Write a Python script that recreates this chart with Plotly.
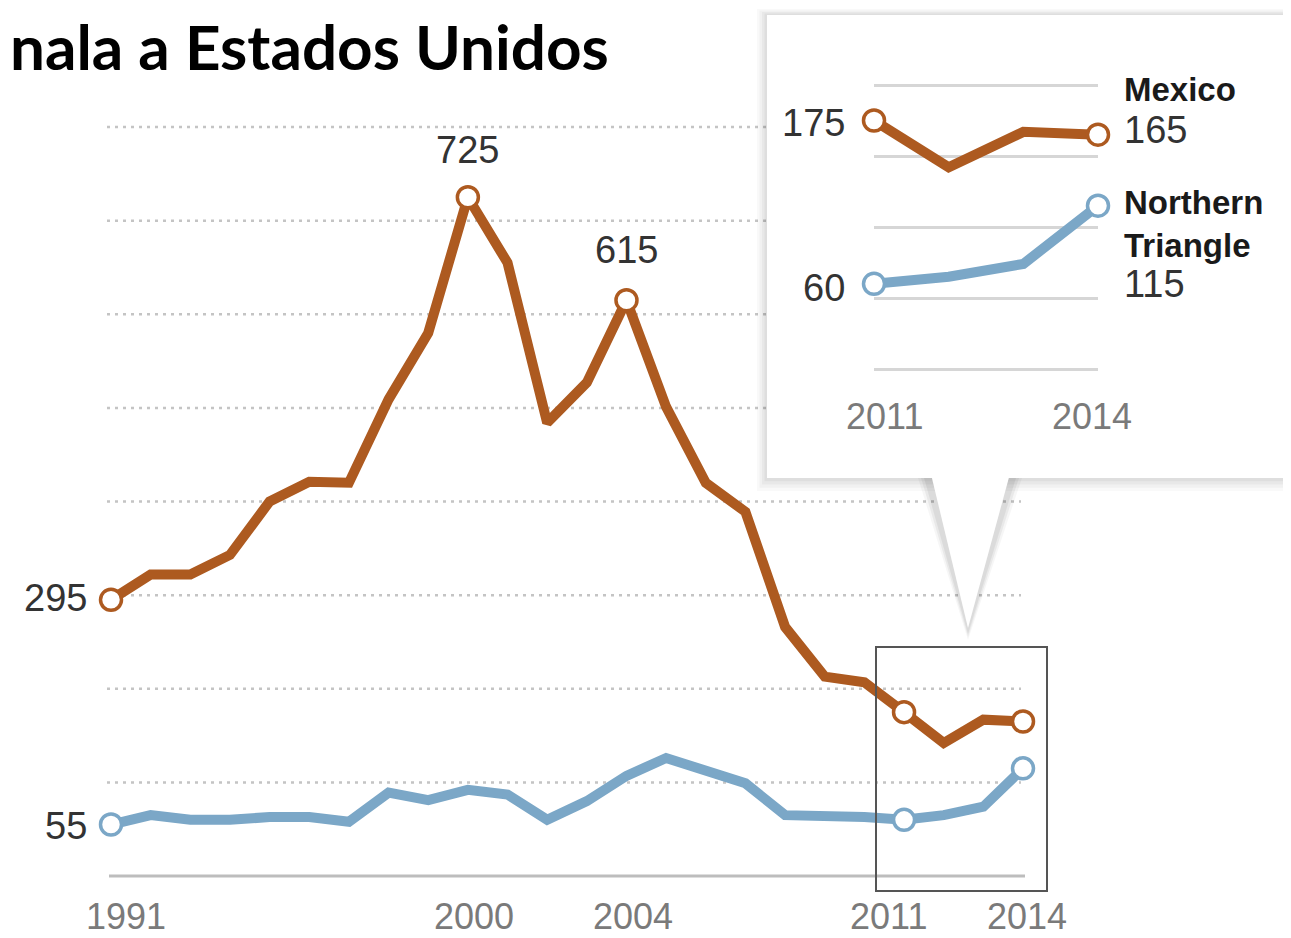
import plotly.graph_objects as go

# ---------------- data ----------------
years = list(range(1991, 2015))
mexico = [295, 322, 322, 343, 400, 421, 420, 509, 580, 725, 655, 484,
          527, 615, 501, 420, 389, 266, 213, 207, 175, 142, 167, 165]
northern_triangle = [55, 65, 60, 60, 63, 63, 58, 89, 81, 92, 87, 60,
                     80, 107, 126, 113, 99, 65, 65, 63, 60, 65, 74, 115]
main_tick_years = [1991, 2000, 2004, 2011, 2014]
inset_tick_years = [2011, 2014]
main_grid_values = [100, 200, 300, 400, 500, 600, 700, 800]
mexico_marked_years = [1991, 2000, 2004, 2011, 2014]
nt_marked_years = [1991, 2011, 2014]
inset_years = years[-4:]
inset_mexico = mexico[-4:]
inset_nt = northern_triangle[-4:]
title_text = "nala a Estados Unidos"
mexico_name = "Mexico"
nt_name = "Northern<br>Triangle"

# ---------------- layout geometry (styles / positions) ----------------
W, H = 1291, 938
OFF = 8  # page body margin: screen px = figure px + OFF
ORANGE = "#AD5A20"
BLUE = "#7BA7C7"
DARK = "#333333"
GRAY = "#7a7a7a"
NUMFONT = "Liberation Sans"
main_tick_shift = [15, 6, 7, -16, 4]
inset_tick_shift = [10, -6]

# main axes pixel mapping (screen coords)
x_px0, x_px1 = 111, 1023
ppy = (x_px1 - x_px0) / (2014 - 1991)
x_range = [1991 - (x_px0 - OFF) / ppy, 1991 + (W - (x_px0 - OFF)) / ppy]
y_zero_px, ppu = 876, (876 - 127) / 800
y_bottom_px = 898
y_range = [-(y_bottom_px - y_zero_px) / ppu, (y_zero_px - OFF) / ppu]


def dx(px):
    return x_range[0] + (px - OFF) / ppy


def dy(py):
    return (y_zero_px - py) / ppu


def pxp(px):
    return (px - OFF) / W


def pyp(py):
    return 1 - (py - OFF) / H


# inset axes pixel mapping (screen coords)
ix0, ix1 = 874, 1098
iy_zero, ippu = 369, 1.42
iy_bottom, iy_top = 377, 40
iy_range = [-(iy_bottom - iy_zero) / ippu, (iy_zero - iy_top) / ippu]

fig = go.Figure()


def marker_sizes(xs, marked, size):
    return [size if x in marked else 0 for x in xs]


MS, MW = 21, 3.5


def add_series(xs, ys, marked, color, xa, ya):
    fig.add_trace(go.Scatter(
        x=xs, y=ys, mode="lines+markers",
        line=dict(color=color, width=10), cliponaxis=False,
        marker=dict(size=marker_sizes(xs, marked, MS), color="white", opacity=1,
                    line=dict(color=color, width=MW)),
        xaxis=xa, yaxis=ya, hoverinfo="skip", showlegend=False))


add_series(years, northern_triangle, nt_marked_years, BLUE, "x", "y")
add_series(years, mexico, mexico_marked_years, ORANGE, "x", "y")
inset_marked = [inset_years[0], inset_years[-1]]
add_series(inset_years, inset_nt, inset_marked, BLUE, "x2", "y2")
add_series(inset_years, inset_mexico, inset_marked, ORANGE, "x2", "y2")

shapes = []
# dotted main gridlines
for v in main_grid_values:
    shapes.append(dict(type="line", xref="x", yref="y", layer="below",
                       x0=dx(107), x1=dx(1021), y0=v, y1=v,
                       line=dict(color="#c4c4c4", width=2.5, dash="3px,5px")))
# baseline
shapes.append(dict(type="line", xref="x", yref="y", layer="below",
                   x0=dx(109), x1=dx(1025), y0=0, y1=0,
                   line=dict(color="#bdbdbd", width=3)))

# inset box shadow
for i, a in enumerate([0.025, 0.03, 0.035, 0.045]):
    d = 10 - 2.5 * i
    shapes.append(dict(type="rect", xref="x", yref="y", layer="below",
                       x0=dx(767 - d), x1=dx(1320), y0=dy(15 - d * 0.6), y1=dy(478 + d * 1.3),
                       fillcolor="rgba(0,0,0,%s)" % a, line=dict(width=0)))
# pointer shadow
for i, a in enumerate([0.035, 0.05, 0.06]):
    d = 8 - 3 * i
    shapes.append(dict(type="path", xref="x", yref="y", layer="below",
                       path="M %f,%f L %f,%f L %f,%f Z" % (
                           dx(926 - d), dy(478), dx(968), dy(632 + d), dx(1014 + d), dy(478)),
                       fillcolor="rgba(0,0,0,%s)" % a, line=dict(width=0)))
# inset white box
shapes.append(dict(type="rect", xref="x", yref="y", layer="below",
                   x0=dx(767), x1=dx(1320), y0=dy(15), y1=dy(478),
                   fillcolor="white", line=dict(width=0)))
# pointer white
shapes.append(dict(type="path", xref="x", yref="y", layer="below",
                   path="M %f,%f L %f,%f L %f,%f Z" % (
                       dx(930), dy(470), dx(968), dy(628), dx(1011), dy(470)),
                   fillcolor="white", line=dict(width=0)))
# zoom rectangle
shapes.append(dict(type="rect", xref="x", yref="y", layer="above",
                   x0=dx(876), x1=dx(1047), y0=dy(647), y1=dy(891),
                   line=dict(color="#555555", width=2), fillcolor="rgba(0,0,0,0)"))

annotations = []
# title
annotations.append(dict(xref="paper", yref="paper", x=pxp(OFF), y=pyp(46),
                        xanchor="left", yanchor="middle", showarrow=False,
                        text="<b>%s</b>" % title_text,
                        font=dict(family="Lato", size=62, color="black")))


def num_label(px, py, text, anchor="center", color=DARK, size=38):
    annotations.append(dict(xref="paper", yref="paper", x=pxp(px), y=pyp(py),
                            xanchor=anchor, yanchor="middle", showarrow=False,
                            text=text, font=dict(family=NUMFONT, size=size, color=color)))


# main value labels
num_label(89, 598, str(mexico[0]), "right")
num_label(89, 826, str(northern_triangle[0]), "right")
for yr, sh in [(2000, 47), (2004, 50)]:
    i = years.index(yr)
    annotations.append(dict(xref="x", yref="y", x=years[i], y=mexico[i],
                            yshift=sh, showarrow=False, text=str(mexico[i]),
                            font=dict(family=NUMFONT, size=38, color=DARK)))
# main year labels
for yr, sh in zip(main_tick_years, main_tick_shift):
    annotations.append(dict(xref="x", yref="paper", x=yr, y=pyp(916), xshift=sh,
                            yanchor="middle", showarrow=False, text=str(yr),
                            font=dict(family=NUMFONT, size=36, color=GRAY)))
# inset year labels
for yr, sh in zip(inset_tick_years, inset_tick_shift):
    annotations.append(dict(xref="x2", yref="paper", x=yr, y=pyp(417), xshift=sh,
                            yanchor="middle", showarrow=False, text=str(yr),
                            font=dict(family=NUMFONT, size=36, color=GRAY)))
# inset labels
num_label(847, 123, str(inset_mexico[0]), "right")
num_label(847, 288, str(inset_nt[0]), "right")
num_label(1122, 130, str(inset_mexico[-1]), "left")
num_label(1122, 284, str(inset_nt[-1]), "left")
annotations.append(dict(xref="paper", yref="paper", x=pxp(1122), y=pyp(90),
                        xanchor="left", yanchor="middle", showarrow=False,
                        text="<b>%s</b>" % mexico_name,
                        font=dict(family=NUMFONT, size=33, color="#1a1a1a")))
annotations.append(dict(xref="paper", yref="paper", x=pxp(1122), y=pyp(224),
                        xanchor="left", yanchor="middle", showarrow=False, align="left",
                        text="<b>%s</b>" % nt_name,
                        font=dict(family=NUMFONT, size=33, color="#1a1a1a")))

fig.update_layout(
    template="none",
    width=W, height=H, margin=dict(l=0, r=0, t=0, b=0, pad=0, autoexpand=False),
    paper_bgcolor="white", plot_bgcolor="rgba(0,0,0,0)",
    shapes=shapes, annotations=annotations,
    xaxis=dict(domain=[0, 1], range=x_range, showgrid=False, zeroline=False,
               showline=False, showticklabels=False, ticks="", automargin=False,
               fixedrange=True),
    yaxis=dict(domain=[1 - (y_bottom_px - OFF) / H, 1], range=y_range, showgrid=False,
               zeroline=False, showticklabels=False, showline=False, ticks="",
               automargin=False, fixedrange=True),
    xaxis2=dict(domain=[(ix0 - OFF) / W, (ix1 - OFF) / W], range=[2011, 2014], anchor="y2",
                showgrid=False, zeroline=False, showline=False, showticklabels=False,
                ticks="", automargin=False, fixedrange=True),
    yaxis2=dict(domain=[1 - (iy_bottom - OFF) / H, 1 - (iy_top - OFF) / H], range=iy_range,
                anchor="x2", showgrid=True, gridcolor="#d6d6d6", gridwidth=3, tick0=0,
                dtick=50, zeroline=False, showticklabels=False, showline=False, ticks="",
                automargin=False, fixedrange=True),
)

fig.write_html("out.html")
